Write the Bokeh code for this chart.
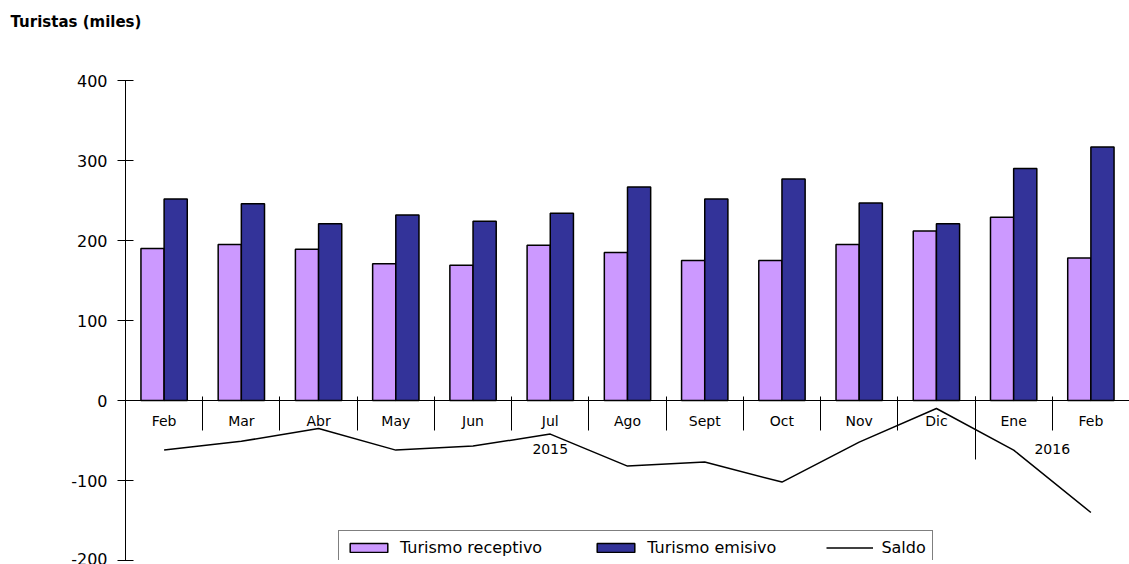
from bokeh.plotting import figure
from bokeh.models import (Range1d, LinearAxis, FixedTicker, Legend,
                          LegendItem, ColumnDataSource, Title)
from bokeh.embed import file_html
from bokeh.resources import INLINE

# ---- data ----
months = ["Feb", "Mar", "Abr", "May", "Jun", "Jul", "Ago", "Sept", "Oct",
          "Nov", "Dic", "Ene", "Feb"]
years = ["2015"] * 11 + ["2016"] * 2
receptivo = [190, 195, 189, 171, 169, 194, 185, 175, 175, 195, 212, 229, 178]
emisivo = [252, 246, 221, 232, 224, 234, 267, 252, 277, 247, 221, 290, 317]
saldo = [-62, -51, -35, -62, -57, -42, -82, -77, -102, -52, -10, -62, -140]
y_ticks = [-200, -100, 0, 100, 200, 300, 400]

FONT = "DejaVu Sans"
n = len(months)
centers = [i + 0.5 for i in range(n)]
off = 0.15

src = ColumnDataSource(dict(
    xr=[c - off for c in centers],
    xe=[c + off for c in centers],
    x=centers, rec=receptivo, emi=emisivo, sal=saldo))

p = figure(width=1129, height=564,
           x_range=Range1d(0, n), y_range=Range1d(y_ticks[0], y_ticks[-1]),
           output_backend="svg", toolbar_location=None,
           x_axis_location=None,
           min_border_left=125, min_border_right=0,
           min_border_top=80, min_border_bottom=4)
p.grid.visible = False
p.outline_line_color = None
p.background_fill_color = "white"
p.border_fill_color = "white"

r1 = p.vbar(x="xr", top="rec", bottom=0, width=0.3, source=src,
            fill_color="#CC99FF", line_color="black", line_width=1.5)
r2 = p.vbar(x="xe", top="emi", bottom=0, width=0.3, source=src,
            fill_color="#333399", line_color="black", line_width=1.5)
r3 = p.line(x="x", y="sal", source=src, line_color="black", line_width=1.5)

# y axis
ya = p.yaxis[0]
ya.ticker = FixedTicker(ticks=y_ticks, minor_ticks=[])
ya.major_label_overrides = {t: str(t) for t in y_ticks}
ya.major_tick_in = 8
ya.major_tick_out = 8
ya.minor_tick_line_color = None
ya.axis_line_color = "black"
ya.major_tick_line_color = "black"
ya.major_label_standoff = 10
ya.major_label_text_font = FONT
ya.major_label_text_font_size = "16px"
ya.major_label_text_color = "black"


def axis_at_zero(**kw):
    ax = LinearAxis(fixed_location=0, major_label_text_font=FONT,
                    major_label_text_font_size="14px",
                    major_label_text_color="black",
                    minor_tick_line_color=None, **kw)
    p.add_layout(ax, "below")
    return ax


# month labels on the y = 0 line
axis_at_zero(ticker=FixedTicker(ticks=centers, minor_ticks=[]),
             major_label_overrides={c: m for c, m in zip(centers, months)},
             major_tick_line_color=None, major_tick_in=0, major_tick_out=0,
             axis_line_color="black", major_label_standoff=12)

# month dividers
bounds = list(range(1, n))
axis_at_zero(ticker=FixedTicker(ticks=bounds, minor_ticks=[]),
             major_label_overrides={b: "" for b in bounds},
             major_tick_line_color="black", major_tick_in=4, major_tick_out=30,
             axis_line_color=None, major_label_text_alpha=0)

# year labels
uniq = []
for y in years:
    if y not in uniq:
        uniq.append(y)
year_centers = [sum(c for c, y in zip(centers, years) if y == u) /
                years.count(u) for u in uniq]
axis_at_zero(ticker=FixedTicker(ticks=year_centers, minor_ticks=[]),
             major_label_overrides={c: u for c, u in zip(year_centers, uniq)},
             major_tick_line_color=None, major_tick_in=0, major_tick_out=0,
             axis_line_color=None, major_label_standoff=43)

# year divider
year_bounds = [i for i in range(1, n) if years[i] != years[i - 1]]
axis_at_zero(ticker=FixedTicker(ticks=year_bounds, minor_ticks=[]),
             major_label_overrides={b: "" for b in year_bounds},
             major_tick_line_color="black", major_tick_in=4, major_tick_out=59,
             axis_line_color=None, major_label_text_alpha=0)

legend = Legend(items=[LegendItem(label="Turismo receptivo", renderers=[r1]),
                       LegendItem(label="Turismo emisivo", renderers=[r2]),
                       LegendItem(label="Saldo", renderers=[r3])],
                orientation="horizontal", location=(213, -4),
                glyph_width=47, glyph_height=11, label_standoff=8,
                spacing=50, padding=6, margin=0, label_height=20,
                label_text_font=FONT, label_text_font_size="16px",
                label_text_color="black",
                border_line_color="black", border_line_width=1,
                background_fill_color="white", background_fill_alpha=1)
p.add_layout(legend)

# spacer between frame and title, then the title itself
p.add_layout(Title(text=" ", text_font_size="1px", standoff=42), "above")
p.add_layout(Title(text="Turistas (miles)", align="left", offset=-115,
                   standoff=10,
                   text_font=FONT, text_font_style="bold",
                   text_font_size="15px", text_color="black"), "above")

open("out.html", "w").write(file_html(p, INLINE))
